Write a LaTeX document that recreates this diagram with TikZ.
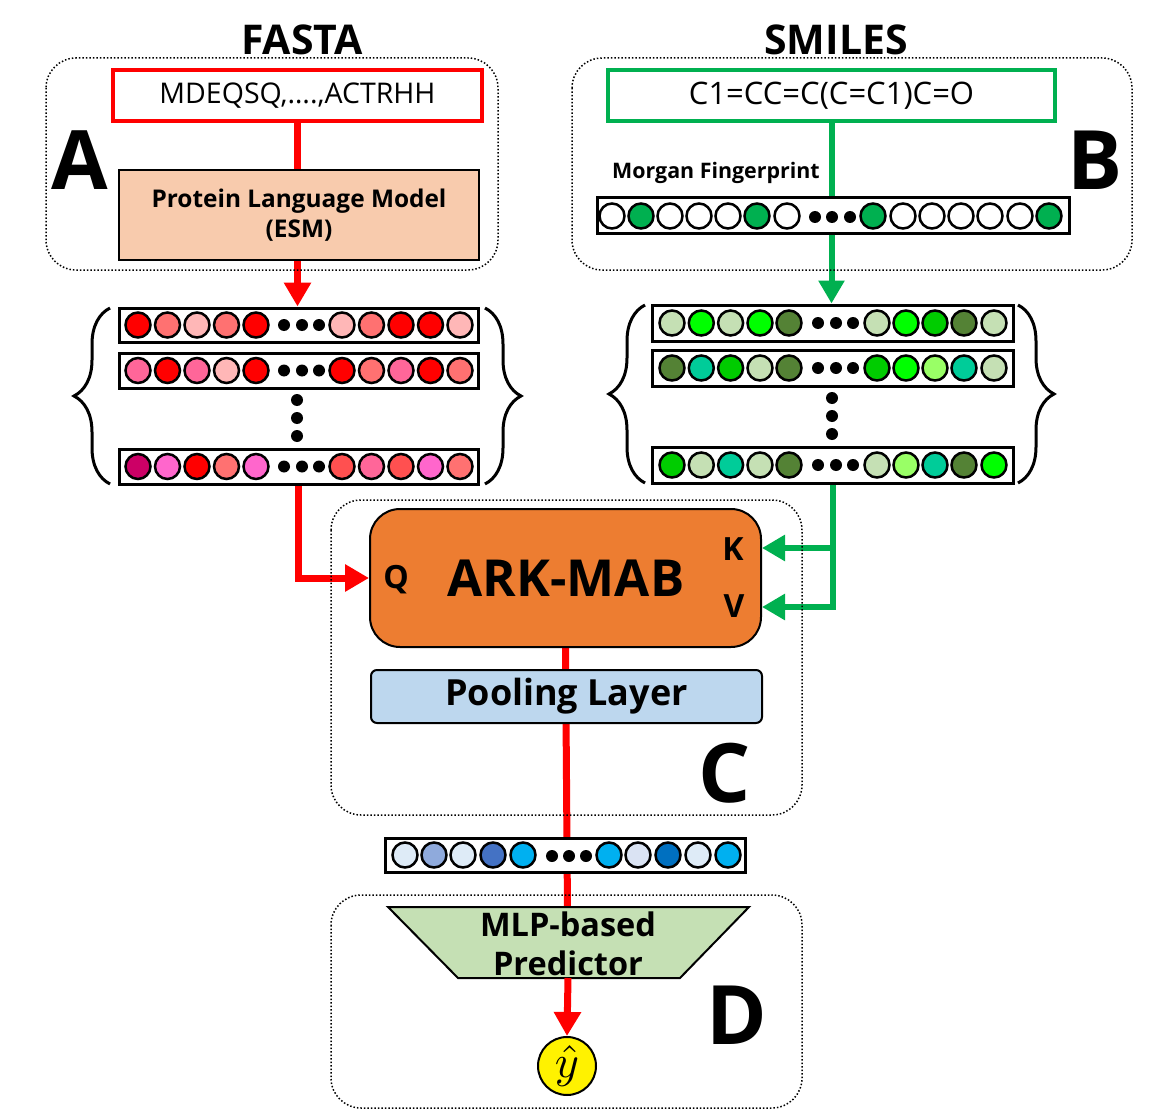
\documentclass[tikz,border=0pt]{standalone}
\usepackage{fontspec}
\setmainfont{Open Sans}
\usetikzlibrary{arrows.meta,decorations.pathreplacing,backgrounds}
\definecolor{rR}{HTML}{FF0000}
\definecolor{rS}{HTML}{FF7171}
\definecolor{rL}{HTML}{FFB7B7}
\definecolor{rP}{HTML}{FF6699}
\definecolor{rM}{HTML}{CC0066}
\definecolor{rK}{HTML}{FF66CC}
\definecolor{rT}{HTML}{FF5050}
\definecolor{gL}{HTML}{C5E0B4}
\definecolor{gB}{HTML}{00FF00}
\definecolor{gD}{HTML}{548235}
\definecolor{gM}{HTML}{00CC00}
\definecolor{gT}{HTML}{00CC99}
\definecolor{gY}{HTML}{99FF66}
\definecolor{gF}{HTML}{00B050}
\definecolor{bL}{HTML}{DEEBF7}
\definecolor{bM}{HTML}{8FAADC}
\definecolor{bD}{HTML}{4472C4}
\definecolor{bC}{HTML}{00B0F0}
\definecolor{bN}{HTML}{0070C0}
\definecolor{bG}{HTML}{DAE3F3}
\definecolor{peach}{HTML}{F8CBAD}
\definecolor{arkor}{HTML}{ED7D31}
\definecolor{poolb}{HTML}{BDD7EE}
\definecolor{mlpg}{HTML}{C5E0B4}
\newcommand{\fsz}[1]{\fontsize{#1}{#1}\selectfont}
\begin{document}
\begin{tikzpicture}[x=1pt,y=-1pt,
  grp/.style={draw, dotted, line width=1.5pt, rounded corners=30pt},
  bar/.style={draw, line width=3pt, fill=white, inner sep=0pt},
  circ/.style={draw, line width=2.5pt},
  redln/.style={draw=rR, line width=7pt, -{Triangle[length=24pt,width=26pt]}},
  redpl/.style={draw=rR, line width=7pt},
  grnln/.style={draw=gF, line width=6pt, -{Triangle[length=23pt,width=25pt]}},
  bigl/.style={font=\bfseries\fsz{82}},
  brc/.style={decorate, decoration={brace, amplitude=36pt}, line width=3pt},
]
\useasboundingbox (0,0) rectangle (1171,1113);

% group boxes
\draw[grp] (46,58) rectangle (498,270);
\draw[grp] (572,58) rectangle (1132,270);
\draw[grp] (331,500) rectangle (802,815);
\draw[grp] (331,895) rectangle (802,1108);

% titles
\node (fasta) at (302,40) {\bfseries\fsz{41}FASTA};
\node (smiles) at (836,40) {\bfseries\fsz{41}SMILES};

% big letters
\node[bigl] (la) at (80,160) {A};
\node[bigl] (lb) at (1095,160) {B};
\node[bigl] (lc) at (725,773) {C};
\node[bigl] (ld) at (737,1015) {D};

% sequence boxes
\node[draw=rR, line width=4pt, fill=white, minimum width=369pt, minimum height=51pt, inner sep=0pt] (seq) at (297.5,95.5) {\raisebox{-3pt}{\fsz{28.5}MDEQSQ,….,ACTRHH}};
\node[draw=gF, line width=4pt, fill=white, minimum width=447pt, minimum height=51pt, inner sep=0pt] (smi) at (831.5,95.5) {\raisebox{-2pt}{\fsz{31}C1=CC=C(C=C1)C=O}};

% rows (nodes)
\node[bar, minimum width=359pt, minimum height=34pt] (r1) at (298.5,325) {};
\node[bar, minimum width=359pt, minimum height=35pt] (r2) at (298.5,370.5) {};
\node[bar, minimum width=359pt, minimum height=35pt] (r3) at (298.5,466.5) {};
\node[bar, minimum width=361pt, minimum height=36pt] (g1) at (832.5,323) {};
\node[bar, minimum width=361pt, minimum height=36pt] (g2) at (832.5,368) {};
\node[bar, minimum width=361pt, minimum height=36pt] (g3) at (832.5,465) {};

% connectors on background
\begin{scope}[on background layer]
\draw[redln] (seq.south) -- (seq.south |- r1.north);
\draw[grnln] (smi.south) -- (smi.south |- g1.north);
\end{scope}

% ESM and fingerprint
\node[draw, line width=2pt, fill=peach, minimum width=360pt, minimum height=90pt, align=center, font=\bfseries\fsz{24.4}] (esm) at (299,215) {Protein Language Model\\[5pt](ESM)};
\node (mf) at (716,173) {\bfseries\fsz{21.4}Morgan Fingerprint};
\node[bar, minimum width=472pt, minimum height=35pt] (fp) at (833,215.5) {};

% fingerprint circles
\foreach \x/\c in {612/white,641/gF,670/white,699/white,728/white,757/gF,787/white,873/gF,903/white,932/white,961/white,990/white,1020/white,1049/gF}
  \draw[circ, fill=\c] (\x,216) circle (12.5);
\foreach \x in {815,832,850} \fill (\x,217) circle (6);

% red rows circles
\foreach \x/\c in {138/rR,167.5/rS,197/rL,226.5/rS,256/rR,342/rL,371.5/rS,401/rR,430.5/rR,460/rL}
  \draw[circ, fill=\c] (\x,325) circle (12.5);
\foreach \x/\c in {138/rP,167.5/rR,197/rP,226.5/rL,256/rR,342/rR,371.5/rS,401/rP,430.5/rR,460/rS}
  \draw[circ, fill=\c] (\x,370.5) circle (12.5);
\foreach \x/\c in {138/rM,167.5/rK,197/rR,226.5/rS,256/rK,342/rT,371.5/rP,401/rT,430.5/rK,460/rS}
  \draw[circ, fill=\c] (\x,466.5) circle (12.5);
\foreach \y in {325,370.5,466.5} \foreach \x in {284,302,319} \fill (\x,\y) circle (6);
\foreach \y in {400,418,436} \fill (297,\y) circle (6);

% green rows circles
\foreach \x/\c in {672/gL,701.3/gB,730.6/gL,760/gB,789/gD,877/gL,906/gB,935/gM,964/gD,994/gL}
  \draw[circ, fill=\c] (\x,323) circle (12.5);
\foreach \x/\c in {672/gD,701.3/gT,730.6/gM,760/gL,789/gD,877/gM,906/gB,935/gY,964/gT,994/gL}
  \draw[circ, fill=\c] (\x,368) circle (12.5);
\foreach \x/\c in {672/gM,701.3/gL,730.6/gT,760/gL,789/gD,877/gL,906/gY,935/gT,964/gD,994/gB}
  \draw[circ, fill=\c] (\x,465) circle (12.5);
\foreach \y in {323,368,465} \foreach \x in {818,836,853} \fill (\x,\y) circle (6);
\foreach \y in {398,416,434} \fill (832,\y) circle (6);

% braces
\draw[brc] (110,484) -- (110,308);
\draw[brc] (485,308) -- (485,484);
\draw[brc] (645,483) -- (645,305);
\draw[brc] (1018,305) -- (1018,483);

% ARK-MAB
\node[draw, line width=2pt, fill=arkor, rounded corners=30pt, minimum width=391pt, minimum height=138pt] (ark) at (565.5,578) {};
\node (arkt) at (566,578) {\bfseries\fsz{51}ARK-MAB};
\node (q) at (396,580) {\bfseries\fsz{32}Q};
\node (k) at (733,549) {\bfseries\fsz{32}K};
\node (v) at (734,606) {\bfseries\fsz{32}V};
\coordinate (kin) at ([yshift=30pt]ark.east);
\coordinate (vin) at ([yshift=-29pt]ark.east);

% pooling
\node[draw, line width=2pt, fill=poolb, rounded corners=6pt, minimum width=391pt, minimum height=53pt] (pool) at (566.5,696.5) {\bfseries\fsz{36}Pooling Layer};

% blue bar
\node[bar, minimum width=360pt, minimum height=34pt] (bb) at (565,855) {};
\foreach \x/\c in {405/bL,434/bM,463/bL,493/bD,523/bC,609/bC,638/bG,668/bN,698/bL,728/bC}
  \draw[circ, fill=\c] (\x,855) circle (12.5);
\foreach \x in {552,569,586} \fill (\x,856) circle (6);

% MLP trapezoid
\draw[line width=2pt, fill=mlpg] (388,907) -- (749,907) -- (680,978) -- (458,978) -- cycle;
\node[align=center, font=\bfseries\fsz{32.5}] (mlp) at (568,944) {MLP-based\\[6pt]Predictor};
\coordinate (mlpb) at (568,978);

% y hat
\node[draw, line width=2pt, fill=yellow, circle, minimum size=58pt, inner sep=0pt] (yh) at (567,1066) {\scalebox{4.6}{$\hat{y}$}};

% main connectors
\begin{scope}[on background layer]
\draw[redpl] (ark.south) -- (mlpb);
\draw[redln] (r3.south) |- (ark.west);
\draw[grnln] (g3.south) |- (vin);
\draw[grnln] (g3.south |- kin) -- (kin);
\end{scope}
\draw[redln] (mlpb) -- (yh.north);
\end{tikzpicture}
\end{document}
